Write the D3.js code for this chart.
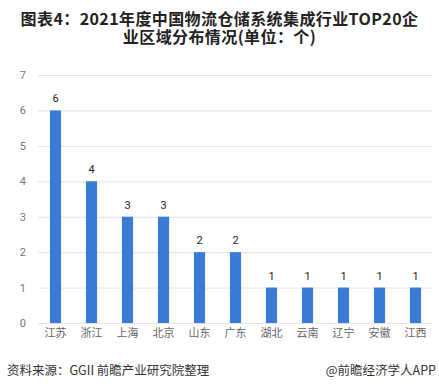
<!DOCTYPE html>
<html>
<head>
<meta charset="utf-8">
<script src="https://cdn.jsdelivr.net/npm/d3@7"></script>
<style>
  body { margin: 0; background: #fff; }
  svg { display: block; font-family: "Noto Sans CJK SC", "Liberation Sans", sans-serif; }
</style>
</head>
<body>
<div class="container"></div>
<script>
var provinces = ["江苏", "浙江", "上海", "北京", "山东", "广东", "湖北", "云南", "辽宁", "安徽", "江西"];
var counts = [6, 4, 3, 3, 2, 2, 1, 1, 1, 1, 1];
var yTicks = [0, 1, 2, 3, 4, 5, 6, 7];
var titleLines = ["图表4：2021年度中国物流仓储系统集成行业TOP20企", "业区域分布情况(单位：个)"];
var sourceText = "资料来源：GGII 前瞻产业研究院整理";
var brandText = "@前瞻经济学人APP";

var w = 439, h = 389;

var svg = d3.select(".container")
  .append("svg")
  .attr("width", w)
  .attr("height", h);

// title
svg.selectAll(".title")
  .data(titleLines)
  .enter()
  .append("text")
  .attr("class", "title")
  .attr("x", w / 2)
  .attr("y", (d, i) => 25 + i * 18)
  .attr("text-anchor", "middle")
  .style("font-size", "16px")
  .style("font-weight", "bold")
  .style("letter-spacing", "0.4px")
  .style("fill", "#222")
  .text(d => d);

var xScale = d3.scaleBand()
  .domain(provinces)
  .range([37.5, 433.5])
  .paddingInner(0.69)
  .paddingOuter(0.345);

var yScale = d3.scaleLinear().domain([0, 7]).range([323, 75]);

// gridlines
svg.append("g")
  .selectAll("line")
  .data(yTicks)
  .enter()
  .append("line")
  .attr("x1", 38)
  .attr("x2", 433)
  .attr("y1", d => yScale(d) + 0.5)
  .attr("y2", d => yScale(d) + 0.5)
  .style("stroke", "#e3e3e3")
  .style("stroke-width", 1);

// y axis labels
var yAxis = d3.axisLeft(yScale).tickValues(yTicks).tickFormat(d3.format("d")).tickSize(0).tickPadding(0);
var yAxisGroup = svg.append("g")
  .attr("transform", "translate(26,0)")
  .call(yAxis);
yAxisGroup.select(".domain").remove();
yAxisGroup.selectAll("text")
  .style("font-size", "11px")
  .style("fill", "#777")
  .style("font-family", "Roboto, 'Liberation Sans', sans-serif");

// bars
svg.selectAll("rect")
  .data(counts)
  .enter()
  .append("rect")
  .attr("class", "bar")
  .attr("x", (d, i) => xScale(provinces[i]))
  .attr("y", d => yScale(d))
  .attr("width", xScale.bandwidth())
  .attr("height", d => yScale(0) - yScale(d))
  .style("fill", "#3a7bd5");

// value labels
svg.selectAll(".val")
  .data(counts)
  .enter()
  .append("text")
  .attr("class", "val")
  .attr("x", (d, i) => xScale(provinces[i]) + xScale.bandwidth() / 2)
  .attr("y", d => yScale(d) - 8)
  .attr("text-anchor", "middle")
  .style("font-size", "11px")
  .style("fill", "#222")
  .style("font-family", "Roboto, 'Liberation Sans', sans-serif")
  .text(d => d);

// x axis labels
var xAxis = d3.axisBottom(xScale).tickSize(0).tickPadding(6);
var xAxisGroup = svg.append("g")
  .attr("transform", "translate(0,323)")
  .call(xAxis);
xAxisGroup.select(".domain").remove();
xAxisGroup.selectAll("text")
  .style("font-size", "11px")
  .style("fill", "#666")
  .style("font-family", "'Noto Sans CJK SC', sans-serif");

// footer
svg.append("text")
  .attr("x", 7)
  .attr("y", 375)
  .style("font-size", "12.5px")
  .style("fill", "#333")
  .text(sourceText);

svg.append("text")
  .attr("x", 436)
  .attr("y", 375)
  .attr("text-anchor", "end")
  .style("font-size", "12.5px")
  .style("fill", "#333")
  .text(brandText);
</script>
</body>
</html>
